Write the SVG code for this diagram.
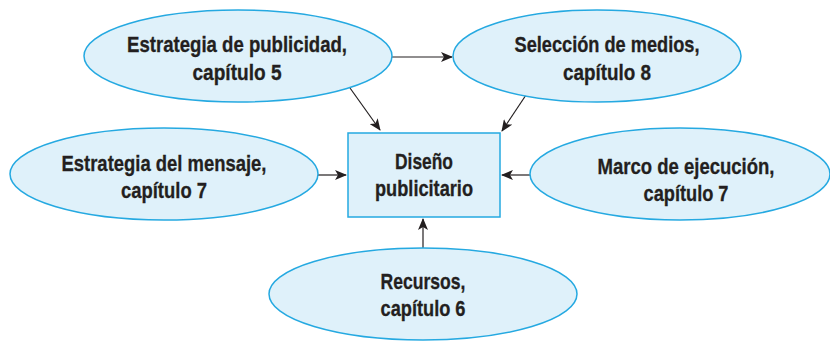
<svg xmlns="http://www.w3.org/2000/svg" width="830" height="343" viewBox="0 0 830 343">
<style>
.n{fill:#dff1fa;stroke:#25a9e1;stroke-width:1.5}
.t{font-family:"Liberation Sans",Arial,sans-serif;font-weight:bold;font-size:22px;fill:#231f20;stroke:#231f20;stroke-width:0.3;text-anchor:middle}
.c{stroke:#231f20;stroke-width:1.2;fill:none;marker-end:url(#a)}
</style>
<defs>
<marker id="a" viewBox="0 0 12 10" refX="11" refY="5" markerWidth="12" markerHeight="10" markerUnits="userSpaceOnUse" orient="auto">
<path d="M0,0 L12,5 L0,10 L3,5 Z" fill="#231f20"/>
</marker>
</defs>
<rect width="830" height="343" fill="#fff"/>
<g id="connectors">
<line class="c" x1="392" y1="57" x2="452" y2="57"/>
<line class="c" x1="350" y1="88" x2="380" y2="130"/>
<line class="c" x1="526" y1="95" x2="502" y2="131"/>
<line class="c" x1="318" y1="175" x2="346" y2="175"/>
<line class="c" x1="530" y1="175" x2="502" y2="175"/>
<line class="c" x1="423" y1="248" x2="423" y2="219"/>
</g>
<g id="n1">
<ellipse class="n" cx="238" cy="56" rx="154" ry="46"/>
<text class="t" x="237" y="52" textLength="220" lengthAdjust="spacingAndGlyphs">Estrategia de publicidad,</text>
<text class="t" x="237" y="80" textLength="89" lengthAdjust="spacingAndGlyphs">capítulo 5</text>
</g>
<g id="n2">
<ellipse class="n" cx="597" cy="56" rx="144" ry="46"/>
<text class="t" x="607" y="52" textLength="185" lengthAdjust="spacingAndGlyphs">Selección de medios,</text>
<text class="t" x="607" y="80" textLength="88" lengthAdjust="spacingAndGlyphs">capítulo 8</text>
</g>
<g id="n3">
<ellipse class="n" cx="164" cy="174" rx="154" ry="46"/>
<text class="t" x="164" y="171" textLength="205" lengthAdjust="spacingAndGlyphs">Estrategia del mensaje,</text>
<text class="t" x="164" y="198" textLength="86" lengthAdjust="spacingAndGlyphs">capítulo 7</text>
</g>
<g id="n4">
<rect class="n" x="348" y="133" width="152" height="84"/>
<text class="t" x="424" y="169" textLength="58" lengthAdjust="spacingAndGlyphs">Diseño</text>
<text class="t" x="424" y="196" textLength="98" lengthAdjust="spacingAndGlyphs">publicitario</text>
</g>
<g id="n5">
<ellipse class="n" cx="680" cy="174" rx="150" ry="46"/>
<text class="t" x="686" y="174" textLength="177" lengthAdjust="spacingAndGlyphs">Marco de ejecución,</text>
<text class="t" x="686" y="201" textLength="85" lengthAdjust="spacingAndGlyphs">capítulo 7</text>
</g>
<g id="n6">
<ellipse class="n" cx="423" cy="294" rx="154" ry="46"/>
<text class="t" x="423" y="289" textLength="85" lengthAdjust="spacingAndGlyphs">Recursos,</text>
<text class="t" x="423" y="316" textLength="85" lengthAdjust="spacingAndGlyphs">capítulo 6</text>
</g>
</svg>
